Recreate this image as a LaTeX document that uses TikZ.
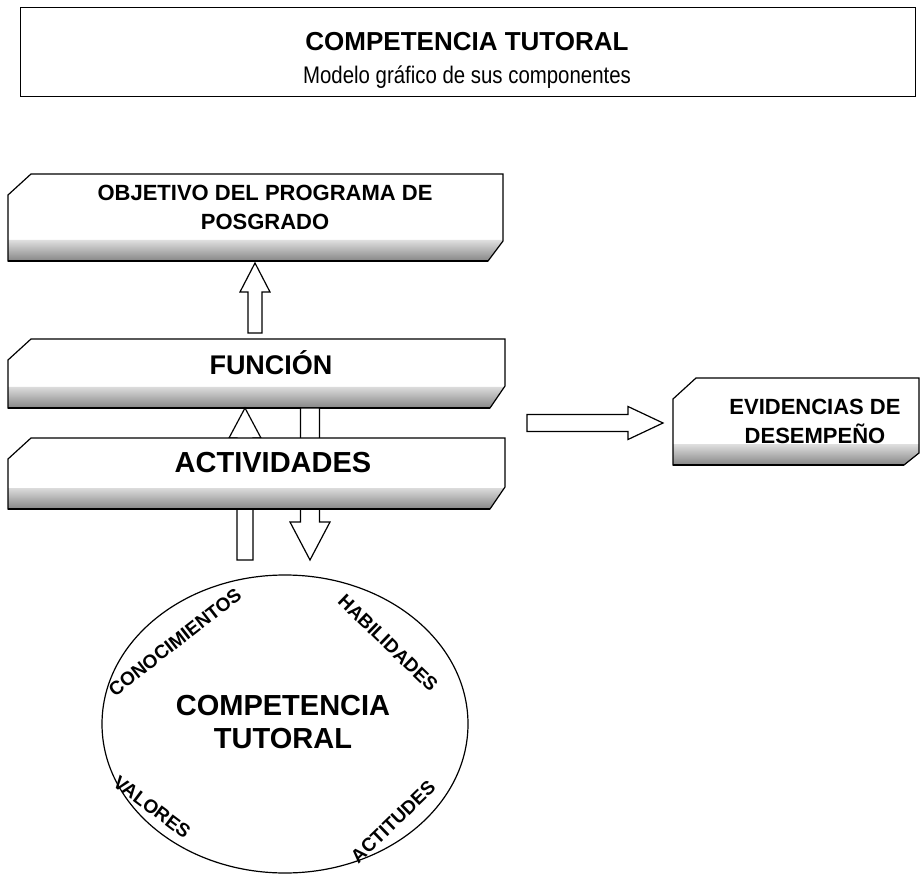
\documentclass[tikz,border=0pt]{standalone}
\usepackage{fontspec}
\setmainfont{Liberation Sans}
\newfontfamily\angosta[FakeStretch=0.85]{Liberation Sans}
\usetikzlibrary{calc,shapes.geometric}

% caja con esquina cortada y franja sombreada
\newcommand{\bevelbox}[2]{%
  \fill[white] ($(#1.north west)+(0,21)$) -- ($(#1.north west)+(23,0)$) -- (#1.north east)
    -- ($(#1.south east)+(0,-#2)$) -- ($(#1.south east)+(-15,0)$) -- (#1.south west) -- cycle;
  \shade[top color=gray!25,bottom color=gray!95] ($(#1.south west)+(0,-21)$) -- ($(#1.south east)+(0,-21)$)
    -- ($(#1.south east)+(0,-#2)$) -- ($(#1.south east)+(-15,0)$) -- (#1.south west) -- cycle;
  \draw[marco] ($(#1.north west)+(0,21)$) -- ($(#1.north west)+(23,0)$) -- (#1.north east)
    -- ($(#1.south east)+(0,-#2)$) -- ($(#1.south east)+(-15,0)$) -- (#1.south west) -- cycle;
  \draw[line width=2.2pt] (#1.south west) -- ($(#1.south east)+(-15,0)$);
}
% flecha hueca vertical: cola, punta, medio ancho del cuerpo, medio ancho de la punta, largo de la punta
\newcommand{\blockv}[5]{%
  \draw[flecha] let \p1=(#1), \p2=(#2), \n1={sign(\y2-\y1)*#5} in
    ({\x1-#3pt},\y1) -- ({\x1-#3pt},{\y2-\n1*1pt}) -- ({\x1-#4pt},{\y2-\n1*1pt}) -- (\x2,\y2)
    -- ({\x1+#4pt},{\y2-\n1*1pt}) -- ({\x1+#3pt},{\y2-\n1*1pt}) -- ({\x1+#3pt},\y1) -- cycle;
}
\newcommand{\blockh}[5]{%
  \draw[flecha] let \p1=(#1), \p2=(#2) in
    (\x1,{\y1-#3pt}) -- ({\x2-#5pt},{\y1-#3pt}) -- ({\x2-#5pt},{\y1-#4pt}) -- (\x2,\y2)
    -- ({\x2-#5pt},{\y1+#4pt}) -- ({\x2-#5pt},{\y1+#3pt}) -- (\x1,{\y1+#3pt}) -- cycle;
}

\begin{document}
\begin{tikzpicture}[x=1pt,y=-1pt,
    marco/.style={line width=1.2pt,line join=miter},
    flecha/.style={draw,fill=white,line width=1.2pt,line join=miter},
    caja/.style={inner sep=0pt,outer sep=0pt},
    texto/.style={font=\bfseries\fontsize{22}{29}\selectfont,align=center,inner sep=0pt},
    rotulo/.style={font=\bfseries\fontsize{19}{22}\selectfont,inner sep=0pt}]
\useasboundingbox (0,0) rectangle (921,882);

% titulo
\node[draw,line width=1pt,caja,minimum width=895pt,minimum height=89pt] (titulo) at (467.5,52.5) {};
\node[font=\bfseries\fontsize{26}{30}\selectfont] (tit1) at (467,42) {COMPETENCIA TUTORAL};
\node[font=\angosta\fontsize{24}{28}\selectfont] (tit2) at (467,77) {Modelo gráfico de sus componentes};

% cajas
\node[caja,minimum width=495pt,minimum height=87pt] (objetivo) at (255.5,217.5) {};
\bevelbox{objetivo}{20}
\node[texto] (objtxt) at (265,207) {OBJETIVO DEL PROGRAMA DE\\POSGRADO};

\node[caja,minimum width=497pt,minimum height=69pt] (funcion) at (256.5,373.5) {};
\bevelbox{funcion}{22}
\node[texto,font=\bfseries\fontsize{27}{30}\selectfont] (funtxt) at (271,363) {FUNCIÓN};

% flechas entre funcion y actividades
\coordinate (act-cola) at (245,560);
\coordinate (fun-punta) at (245,408);
\coordinate (fun-cola) at (310,408);
\coordinate (com-punta) at (310,560);
\blockv{act-cola}{fun-punta}{8}{16}{30}
\blockv{fun-cola}{com-punta}{9.5}{20}{38}

\node[caja,minimum width=497pt,minimum height=71pt] (actividades) at (256.5,473.5) {};
\bevelbox{actividades}{22}
\node[texto,font=\bfseries\fontsize{29}{32}\selectfont] (acttxt) at (273,463) {ACTIVIDADES};

\coordinate (fun-arriba) at (255,333);
\coordinate (obj-abajo) at (255,263);
\blockv{fun-arriba}{obj-abajo}{7}{15}{29}

% evidencias
\node[caja,minimum width=246pt,minimum height=87pt] (evidencias) at (796,421.5) {};
\bevelbox{evidencias}{12}
\node[texto] (evitxt) at (815,421) {EVIDENCIAS DE\\DESEMPEÑO};
\coordinate (act-derecha) at (527,423);
\coordinate (evi-punta) at (663,423);
\blockh{act-derecha}{evi-punta}{8.5}{16.5}{35}

% competencia
\node[draw,ellipse,line width=1.2pt,caja,minimum width=366pt,minimum height=298pt] (nucleo) at (285,724) {};
\node[texto,font=\bfseries\fontsize{29}{33}\selectfont] (nuctxt) at (283,722) {COMPETENCIA\\TUTORAL};
\node[rotulo,rotate=38] (conoc) at (175,642) {CONOCIMIENTOS};
\node[rotulo,rotate=-44] (habil) at (388,643) {HABILIDADES};
\node[rotulo,rotate=-37] (valor) at (152,807) {VALORES};
\node[rotulo,rotate=44] (actit) at (393,822) {ACTITUDES};
\end{tikzpicture}
\end{document}
